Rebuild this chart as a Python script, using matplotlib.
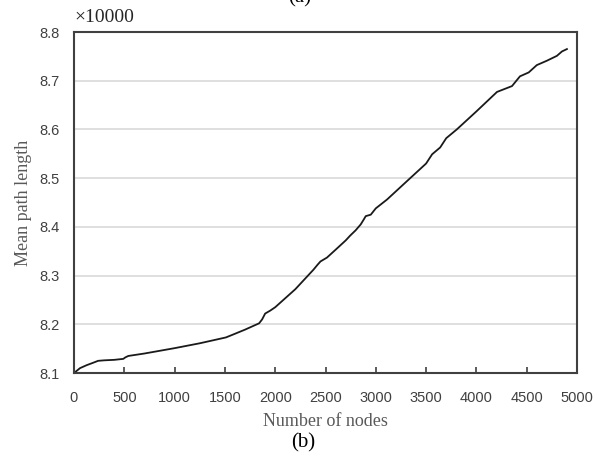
import matplotlib
matplotlib.use('Agg')
import matplotlib.pyplot as plt

# Data (y in units of 10000)
nodes = [0, 30, 60, 125, 190, 240, 300, 400, 490, 510, 540, 700, 1000, 1250,
         1510, 1570, 1700, 1840, 1870, 1900, 1950, 2000, 2200, 2380, 2420, 2450,
         2515, 2600, 2700, 2745, 2800, 2850, 2880, 2900, 2950, 3000, 3111, 3300,
         3500, 3560, 3640, 3700, 3805, 4000, 4205, 4354, 4433, 4520, 4600, 4700,
         4800, 4850, 4900]
path_len = [8.100, 8.105, 8.110, 8.116, 8.121, 8.125, 8.126, 8.127, 8.129, 8.132,
            8.135, 8.140, 8.151, 8.161, 8.173, 8.178, 8.189, 8.202, 8.210, 8.222,
            8.228, 8.235, 8.272, 8.312, 8.322, 8.329, 8.337, 8.353, 8.372, 8.382,
            8.393, 8.405, 8.415, 8.422, 8.425, 8.438, 8.456, 8.492, 8.530, 8.549,
            8.563, 8.582, 8.600, 8.637, 8.677, 8.689, 8.709, 8.717, 8.732, 8.741,
            8.751, 8.760, 8.765]
x_ticks = list(range(0, 5001, 500))
y_ticks = [8.1, 8.2, 8.3, 8.4, 8.5, 8.6, 8.7, 8.8]

fig = plt.figure(figsize=(6.07, 4.59), dpi=100)
ax = fig.add_axes([74/607, 1 - 373/459, 503/607, 341/459])

ax.plot(nodes, path_len, color='#1a1a1a', lw=1.3)

ax.set_xlim(0, 5000)
ax.set_ylim(8.1, 8.8)
ax.set_xticks(x_ticks)
ax.set_yticks(y_ticks)
ax.set_yticklabels([f'{v:.1f}' for v in y_ticks])
ax.grid(axis='y', color='#d9d9d9', lw=1.2)
ax.set_axisbelow(True)
for s in ax.spines.values():
    s.set_color('#404040')
    s.set_linewidth(1.5)

ax.tick_params(axis='x', direction='in', length=4, width=1.2, color='#404040',
               labelcolor='#404040', pad=13)
ax.tick_params(axis='y', length=0, labelcolor='#404040', pad=10)
for lab in ax.get_xticklabels() + ax.get_yticklabels():
    lab.set_fontfamily('Liberation Sans')
    lab.set_fontsize(10.5)

ax.set_xlabel('Number of nodes', family='Liberation Serif', size=13, color='#595959', labelpad=6)
ax.set_ylabel('Mean path length', family='Liberation Serif', size=13, color='#595959', labelpad=6)

fig.text(74/607, 1 - 17/459, '×10000', family='Liberation Serif', size=14,
         color='#262626', ha='left', va='center')
fig.text(303/607, 1 - 443/459, '(b)', family='Liberation Serif', size=15,
         color='black', ha='center', va='center')
fig.text(300/607, 1 + 2/459, '(a)', family='Liberation Serif', size=15,
         color='black', ha='center', va='center')

fig.savefig('out.png', dpi=100)
